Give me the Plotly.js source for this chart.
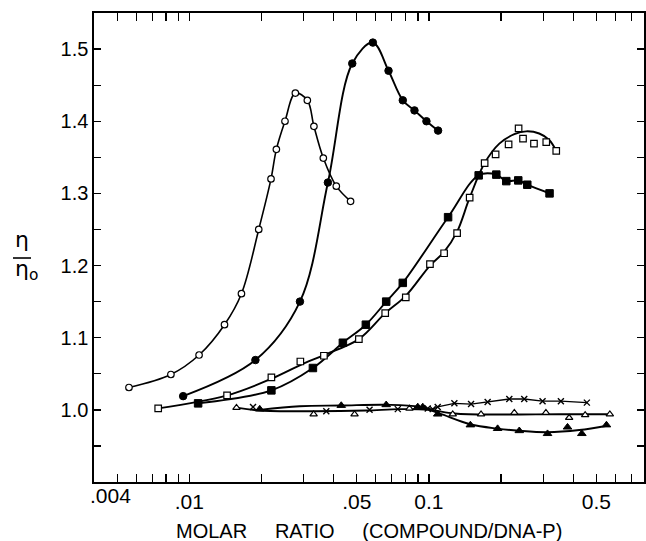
<!DOCTYPE html>
<html><head><meta charset="utf-8">
<script src="https://cdn.plot.ly/plotly-3.0.1.min.js"></script>
<style>html,body{margin:0;padding:0;background:#fff}#chart{width:646px;height:541px}</style>
</head><body><div id="chart"></div>
<script>
// open circles
const openCircX = [0.005597,0.008375,0.01098,0.01402,0.01650,0.01948,0.02192,0.02308,0.02507,0.02770,0.03108,0.03311,0.03624,0.04106,0.04709];
const openCircY = [1.031,1.049,1.076,1.118,1.161,1.250,1.320,1.361,1.400,1.439,1.429,1.393,1.349,1.310,1.289];
// filled circles
const fillCircX = [0.009423,0.01887,0.02895,0.03787,0.04786,0.05833,0.06782,0.07778,0.08702,0.09763,0.1092];
const fillCircY = [1.019,1.069,1.150,1.315,1.480,1.509,1.470,1.429,1.415,1.400,1.387];
// open squares (points)
const openSqX = [0.007413,0.01437,0.02200,0.02906,0.03645,0.05100,0.06569,0.08005,0.1010,0.1157,0.1311,0.1479,0.1708,0.1898,0.2150,0.2367,0.2470,0.2744,0.3088,0.3399];
const openSqY = [1.002,1.020,1.045,1.067,1.075,1.098,1.134,1.156,1.202,1.217,1.245,1.294,1.342,1.354,1.368,1.390,1.376,1.369,1.371,1.359];
// open squares (fitted curve)
const openSqCurveX = [0.007413,0.01437,0.02200,0.02906,0.03645,0.05100,0.06569,0.08005,0.1010,0.1157,0.1311,0.1479,0.1708,0.1967,0.2272,0.2548,0.2886,0.3177,0.3399];
const openSqCurveY = [1.002,1.020,1.043,1.062,1.076,1.098,1.134,1.158,1.200,1.219,1.247,1.294,1.342,1.369,1.382,1.386,1.383,1.374,1.359];
// filled squares
const fillSqX = [0.01088,0.02200,0.03279,0.04374,0.05454,0.06632,0.07778,0.1202,0.1613,0.1911,0.2103,0.2360,0.2573,0.3187];
const fillSqY = [1.009,1.027,1.058,1.093,1.118,1.150,1.176,1.267,1.325,1.326,1.317,1.318,1.312,1.300];
// open triangles
const triOpenX = [0.01573,0.03302,0.04893,0.08293,0.1257,0.1650,0.2272,0.3078,0.3848,0.4488,0.5689];
const triOpenY = [1.003,0.994,0.994,1.002,0.994,0.994,0.996,0.996,0.989,0.993,0.994];
const triOpenCurveX = [0.01573,0.01967,0.03302,0.05456,0.07539,0.1005,0.1277,0.1967,0.3498,0.5787];
const triOpenCurveY = [1.003,0.999,0.998,0.999,1.001,1.000,0.995,0.9935,0.994,0.994];
// filled triangles
const triFillX = [0.01967,0.04306,0.06632,0.08982,0.09423,0.1088,0.1489,0.1935,0.2383,0.3126,0.3788,0.4347,0.5507];
const triFillY = [1.001,1.006,1.007,1.004,1.004,0.994,0.979,0.974,0.971,0.967,0.976,0.967,0.979];
const triFillCurveX = [0.01967,0.02887,0.04319,0.06651,0.09130,0.1106,0.1489,0.1929,0.2383,0.3118,0.4238,0.5543];
const triFillCurveY = [1.000,1.005,1.006,1.007,1.004,0.995,0.980,0.974,0.971,0.969,0.972,0.978];
// crosses
const crossX = [0.01844,0.03729,0.05651,0.07413,0.09886,0.1037,0.1088,0.1277,0.1499,0.1758,0.2165,0.2499,0.2980,0.3554,0.4562];
const crossY = [1.004,0.998,1.000,1.001,1.002,1.001,1.004,1.009,1.008,1.011,1.015,1.015,1.012,1.012,1.010];

// ticks
const xTickVals = [0.01,0.05,0.1,0.5];
const xTickText = ['.01','.05','0.1','0.5'];
const xMinorVals = [0.005,0.006,0.007,0.008,0.009,0.02,0.03,0.04,0.06,0.07,0.08,0.09,0.2,0.3,0.4,0.6,0.7];
const yTickVals = [1.0,1.1,1.2,1.3,1.4,1.5];
const yTickText = ['1.0','1.1','1.2','1.3','1.4','1.5'];
const yMinorVals = [0.95,1.05,1.15,1.25,1.35,1.45];

const K = '#000';
function lineT(x, y, w, shape) {
  return {x: x, y: y, mode: 'lines', line: {color: K, width: w, shape: shape || 'spline', smoothing: 1}, hoverinfo: 'skip', showlegend: false};
}
function markT(x, y, symbol, size, fill, lw) {
  return {x: x, y: y, mode: 'markers', marker: {symbol: symbol, size: size, color: fill, line: {color: K, width: lw || 1.3}}, showlegend: false};
}

const data = [
  lineT(openCircX, openCircY, 1.6),
  lineT(fillCircX, fillCircY, 1.9),
  lineT(openSqCurveX, openSqCurveY, 1.9),
  lineT(fillSqX, fillSqY, 1.9),
  lineT(triOpenCurveX, triOpenCurveY, 1.9),
  lineT(triFillCurveX, triFillCurveY, 1.9),
  lineT(crossX.slice(4), crossY.slice(4), 1.3, 'linear'),
  markT(openCircX, openCircY, 'circle', 6.5, '#fff', 1.2),
  markT(fillCircX, fillCircY, 'circle', 7.5, K, 1),
  markT(openSqX, openSqY, 'square', 6.5, '#fff', 1.2),
  markT(fillSqX, fillSqY, 'square', 7.5, K, 1),
  markT(triOpenX, triOpenY, 'triangle-up', 6.5, '#fff', 1.2),
  markT(triFillX, triFillY, 'triangle-up', 7.5, K, 1),
  markT(crossX, crossY, 'x-thin', 6, K, 1.4)
];

const fnt = 'Liberation Sans, Arial, sans-serif';
const layout = {
  width: 646, height: 541,
  margin: {l: 94, r: 2, t: 13, b: 59},
  paper_bgcolor: '#fff', plot_bgcolor: '#fff',
  showlegend: false,
  font: {family: fnt, color: K},
  xaxis: {
    type: 'log', range: [Math.log10(0.004), Math.log10(0.79)],
    tickmode: 'array', tickvals: xTickVals, ticktext: xTickText,
    ticks: 'inside', ticklen: 8, tickwidth: 1.3, tickcolor: K,
    minor: {tickmode: 'array', tickvals: xMinorVals, ticks: 'inside', ticklen: 8, tickwidth: 1.3, tickcolor: K, showgrid: false},
    showline: true, linecolor: K, linewidth: 1.6, mirror: 'ticks',
    showgrid: false, zeroline: false,
    tickfont: {size: 21, family: fnt, color: K}
  },
  yaxis: {
    range: [0.9, 1.55],
    tickmode: 'array', tickvals: yTickVals, ticktext: yTickText,
    ticks: 'inside', ticklen: 7, tickwidth: 1.3, tickcolor: K,
    minor: {tickmode: 'array', tickvals: yMinorVals, ticks: 'inside', ticklen: 7, tickwidth: 1.3, tickcolor: K, showgrid: false},
    showline: true, linecolor: K, linewidth: 1.6, mirror: 'ticks',
    showgrid: false, zeroline: false,
    tickfont: {size: 20, family: fnt, color: K}
  },
  annotations: [
    {xref: 'x', yref: 'paper', x: Math.log10(0.004), y: 0, xanchor: 'left', yanchor: 'top', xshift: -6, yshift: 0,
     text: '.004', showarrow: false, font: {size: 21, family: fnt, color: K}},
    {xref: 'paper', yref: 'paper', x: 0.5, y: 0, xanchor: 'center', yanchor: 'middle', yshift: -49,
     text: 'MOLAR\u00a0\u00a0\u00a0\u00a0 RATIO\u00a0\u00a0\u00a0\u00a0 (COMPOUND/DNA-P)', showarrow: false,
     font: {size: 20, family: fnt, color: K}},
    {xref: 'paper', yref: 'paper', x: -0.1473, y: 0.4819, xanchor: 'left', yanchor: 'middle', align: 'left',
     text: 'η<br>η<sub>o</sub>', showarrow: false, font: {size: 22, family: 'DejaVu Sans, sans-serif', color: K}}
  ],
  shapes: [
    {type: 'line', xref: 'paper', yref: 'paper', x0: -0.1473, x1: -0.1145, y0: 0.4776, y1: 0.4776, line: {color: K, width: 1.6}}
  ]
};

Plotly.newPlot('chart', data, layout, {displayModeBar: false, staticPlot: true});
</script></body></html>
